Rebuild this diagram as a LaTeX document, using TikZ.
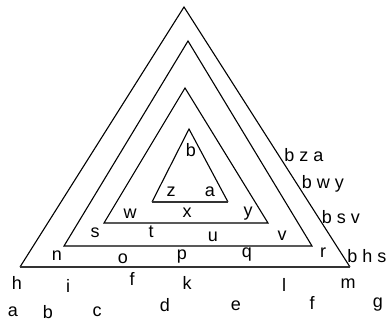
\documentclass[tikz,border=0pt]{standalone}
\usepackage{fontspec}
\setmainfont{Liberation Sans}
\begin{document}
\begin{tikzpicture}[x=1pt,y=-1pt,
  edge/.style={draw=black,line width=1.1pt,line join=miter},
  thickedge/.style={draw=black!80,line width=2pt},
  lbl/.style={inner sep=0pt,font=\fontsize{18}{21}\selectfont}]
\useasboundingbox (0,0) rectangle (391,321);
% triangles
\coordinate (A1) at (184,7); \coordinate (B1) at (20,267); \coordinate (C1) at (350,267);
\coordinate (A2) at (188,41); \coordinate (B2) at (64,246); \coordinate (C2) at (312,246);
\coordinate (A3) at (185,88); \coordinate (B3) at (104,223); \coordinate (C3) at (268,223);
\coordinate (A4) at (189,129); \coordinate (B4) at (152,202); \coordinate (C4) at (228,202);
\draw[edge] (B1) -- (A1) -- (C1);
\draw[thickedge] (B1) -- (C1);
\draw[edge] (B2) -- (A2) -- (C2) -- cycle;
\draw[edge] (B3) -- (A3) -- (C3) -- cycle;
\draw[edge] (B4) -- (A4) -- (C4);
\draw[thickedge] (B4) -- (C4);
% labels
\node[lbl] (l1) at (191,150) {b};
\node[lbl] (l2) at (171,192) {z};
\node[lbl] (l3) at (210,192) {a};
\node[lbl] (l4) at (130,214) {w};
\node[lbl] (l5) at (187,213) {x};
\node[lbl] (l6) at (248,214) {y};
\node[lbl] (l7) at (95,233) {s};
\node[lbl] (l8) at (151,232) {t};
\node[lbl] (l9) at (213,237) {u};
\node[lbl] (l10) at (282,236) {v};
\node[lbl] (l11) at (57,256) {n};
\node[lbl] (l12) at (123,259) {o};
\node[lbl] (l13) at (182,257) {p};
\node[lbl] (l14) at (247,255) {q};
\node[lbl] (l15) at (323,253) {r};
\node[lbl] (l16) at (367,256) {b h s};
\node[lbl] (l17) at (304,155) {b z a};
\node[lbl] (l18) at (323,184) {b w y};
\node[lbl] (l19) at (341,217) {b s v};
\node[lbl] (l20) at (17,283) {h};
\node[lbl] (l21) at (68,286) {i};
\node[lbl] (l22) at (132,279) {f};
\node[lbl] (l23) at (187,283) {k};
\node[lbl] (l24) at (284,285) {l};
\node[lbl] (l25) at (348,284) {m};
\node[lbl] (l26) at (13,312) {a};
\node[lbl] (l27) at (48,312) {b};
\node[lbl] (l28) at (97,312) {c};
\node[lbl] (l29) at (165,305) {d};
\node[lbl] (l30) at (236,306) {e};
\node[lbl] (l31) at (312,303) {f};
\node[lbl] (l32) at (378,305) {g};
\end{tikzpicture}
\end{document}
